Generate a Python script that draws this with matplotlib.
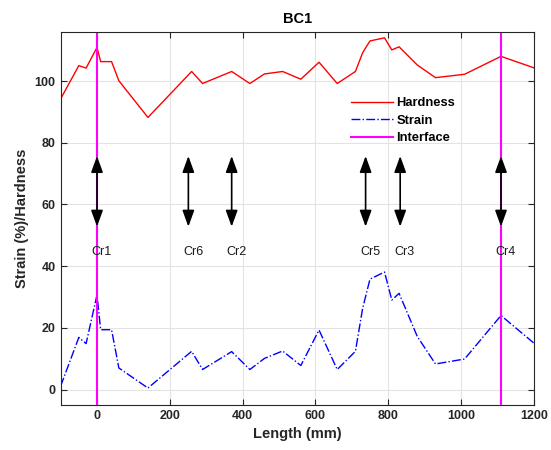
import matplotlib.pyplot as plt
import matplotlib
matplotlib.rcParams['font.family'] = ['Liberation Sans', 'DejaVu Sans']

# data
length = [-100, -50, -30, 0, 10, 40, 60, 140, 260, 290, 370, 420, 460, 510, 560,
          610, 660, 710, 730, 750, 790, 810, 830, 880, 930, 1010, 1110, 1200]
hardness = [94.2, 105, 104.2, 110.9, 106.3, 106.3, 100.1, 88.2, 103.1, 99.2, 103.1, 99.2,
            102.3, 103.1, 100.6, 106.1, 99.2, 103.1, 109.2, 113, 114, 110.1, 111.1,
            105.2, 101.1, 102.2, 108, 104.3]
strain = [1.1, 16.9, 14.9, 30.7, 19.4, 19.4, 7.0, 0.5, 12.4, 6.5, 12.3, 6.5, 10.1, 12.5,
          7.8, 19.3, 6.5, 12.4, 26.4, 35.8, 38.1, 29.0, 31.2, 17.2, 8.3, 9.9, 24.0, 15.1]
interface_x = [0, 1110]

crack_names = ['Cr1', 'Cr6', 'Cr2', 'Cr5', 'Cr3', 'Cr4']
crack_x = [0, 251, 370, 738, 833, 1110]
arrow_lo, arrow_hi = 52.8, 75.7
label_y = 44.7

fig = plt.figure(figsize=(5.51, 4.5), dpi=100)
ax = fig.add_axes([0.110, 0.100, 0.8587, 0.8296])

ax.plot(length, hardness, '-', color='red', lw=1.0, label='Hardness')
ax.plot(length, strain, '-.', color='blue', lw=1.0, label='Strain')
for i, xv in enumerate(interface_x):
    ax.axvline(xv, color='#ff00ff', lw=1.5, label='Interface' if i == 0 else None)

for name, xv in zip(crack_names, crack_x):
    ax.annotate('', xy=(xv, arrow_lo), xytext=(xv, arrow_hi),
                arrowprops=dict(arrowstyle='<|-|>,head_length=1.1,head_width=0.4',
                                color='black', lw=1.2, mutation_scale=9,
                                shrinkA=0, shrinkB=0))
    ax.text(xv - 15, label_y, name, ha='left', va='center', fontsize=9, color='#1a1a1a')

ax.set_xlim(-100, 1200)
ax.set_ylim(-5, 116)
ax.set_xticks([0, 200, 400, 600, 800, 1000, 1200])
ax.set_yticks([0, 20, 40, 60, 80, 100])
ax.grid(True, color='#e3e3e3', lw=0.8)
ax.set_axisbelow(True)
ax.tick_params(direction='in', top=True, right=True, labelsize=9, colors='#262626', length=4)
for lab in ax.get_xticklabels() + ax.get_yticklabels():
    lab.set_fontweight('bold')
for sp in ax.spines.values():
    sp.set_color('#262626')

ax.set_xlabel('Length (mm)', fontsize=10.5, fontweight='bold', color='#262626')
ax.set_ylabel('Strain (%)/Hardness', fontsize=10.5, fontweight='bold', color='#262626')
ax.set_title('BC1', fontsize=10.5, fontweight='bold')

leg = ax.legend(loc='upper left', bbox_to_anchor=(0.59, 0.855), frameon=False,
                handlelength=3.2, handletextpad=0.3, labelspacing=0.42,
                prop={'weight': 'bold', 'size': 9.3})

plt.savefig('out.png', dpi=100)
